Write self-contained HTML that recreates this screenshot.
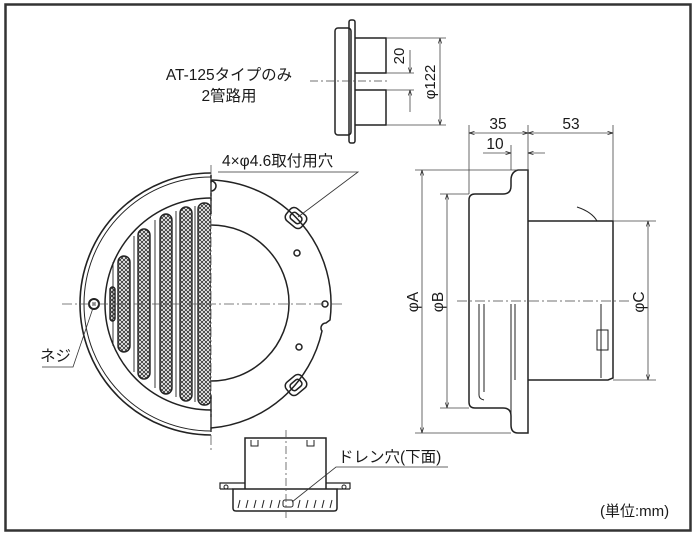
<!DOCTYPE html>
<html><head><meta charset="utf-8"><style>
html,body{margin:0;padding:0;background:#fff}
svg{display:block}
text{font-family:"Liberation Sans","Noto Sans CJK JP",sans-serif;fill:#1a1a1a}
</style></head><body>
<svg width="700" height="538" viewBox="0 0 700 538" xmlns="http://www.w3.org/2000/svg">
<defs>
<pattern id="mesh" width="4" height="4" patternUnits="userSpaceOnUse">
<rect width="4" height="4" fill="#fff"/>
<path d="M0 0L4 4M4 0L0 4" stroke="#333" stroke-width="0.9"/>
</pattern>
<marker id="ar" viewBox="0 0 10 10" refX="10" refY="5" markerWidth="7" markerHeight="7" orient="auto-start-reverse"><path d="M0 2L10 5L0 8" fill="none" stroke="#222" stroke-width="1.2"/></marker>
<clipPath id="lh"><rect x="0" y="0" width="211" height="538"/></clipPath>
</defs>
<rect x="5.5" y="4.5" width="685" height="526" fill="none" stroke="#333" stroke-width="2.5"/>

<!-- top small view -->
<text x="229" y="80" font-size="15.5" text-anchor="middle">AT-125タイプのみ</text>
<text x="229" y="101" font-size="15.5" text-anchor="middle">2管路用</text>
<g fill="none" stroke="#222" stroke-width="1.5">
<rect x="335" y="28" width="16" height="107" rx="3"/>
<rect x="349" y="20" width="6" height="123" rx="2"/>
<path d="M355 38H386V73H355M355 90H386V125H355"/>
</g>
<g stroke="#444" stroke-width="0.8" fill="none">
<path d="M310 81H390" stroke-dasharray="8 3 2 3"/>
<path d="M386 38H446M386 125H446M386 73H414M386 90H414"/>
<path d="M410 50V73" marker-end="url(#ar)"/><path d="M410 112V90" marker-end="url(#ar)"/>
<path d="M440 38V125" marker-start="url(#ar)" marker-end="url(#ar)"/>
</g>
<text transform="translate(404,56) rotate(-90)" font-size="15" text-anchor="middle">20</text>
<text transform="translate(435,82) rotate(-90)" font-size="15" text-anchor="middle">φ122</text>

<!-- front view left half -->
<g clip-path="url(#lh)" fill="none" stroke="#222">
<circle cx="211" cy="304" r="131" stroke-width="1.6"/>
<circle cx="211" cy="304" r="127" stroke-width="1"/>
<circle cx="211" cy="304" r="106" stroke-width="1.5"/>
<g fill="url(#mesh)" stroke-width="1.4">
<rect x="118" y="256" width="12" height="96" rx="6"/>
<rect x="138" y="229" width="12" height="150" rx="6"/>
<rect x="160" y="214" width="12" height="180" rx="6"/>
<rect x="180" y="207" width="12" height="194" rx="6"/>
<rect x="198" y="203" width="13" height="202" rx="6"/>
<rect x="110" y="287" width="5" height="34" rx="2.5"/>
</g>
<path d="M113 262V346M134 236V372M155 220V388M176 211V397M195 206V402" stroke-width="0.9"/>
</g>
<circle cx="94" cy="304" r="5" fill="none" stroke="#222" stroke-width="2"/>
<path d="M93 302V306M95 302V306" stroke="#222" stroke-width="0.8"/>

<!-- front view right half -->
<g fill="none" stroke="#222" stroke-width="1.5">
<path d="M211 180A124 124 0 0 1 330 320 L326 323 A5 5 0 0 0 322 331 A124 124 0 0 1 211 428" />
<path d="M211 225A78 78 0 0 1 211 381"/>
<path d="M211 181A5 5 0 0 1 211 191"/>
<g transform="translate(296,218) rotate(40)"><rect x="-10" y="-8" width="20" height="16" rx="5"/><rect x="-6" y="-4" width="12" height="8" rx="3"/></g>
<g transform="translate(296,385) rotate(-40)"><rect x="-10" y="-8" width="20" height="16" rx="5"/><rect x="-6" y="-4" width="12" height="8" rx="3"/></g>
<circle cx="297" cy="253" r="3"/><circle cx="325" cy="304" r="3"/><circle cx="299" cy="347" r="3"/>
</g>
<path d="M211 175V214" stroke="#222" stroke-width="1.5"/>
<path d="M211 395V432" stroke="#222" stroke-width="1.5"/>
<g stroke="#555" stroke-width="0.8" fill="none">
<path d="M62 304H345" stroke-dasharray="10 3 2 3"/>
<path d="M211 165V450" stroke-dasharray="10 3 2 3"/>
</g>
<text x="222" y="166" font-size="15.5">4×φ4.6取付用穴</text>
<path d="M218 172H358L298 217" fill="none" stroke="#333" stroke-width="0.8"/>
<text x="40" y="361" font-size="15.5">ネジ</text>
<path d="M42 367H73L93 308" fill="none" stroke="#333" stroke-width="0.8"/>

<!-- side view -->
<g fill="none" stroke="#222" stroke-width="1.5">
<path d="M528 170H518Q511 172 511 180V186Q511 194 503 194H475Q469 194 469 200V402Q469 408 475 408H503Q511 408 511 416V425Q511 433 518 433H528Z"/>
<path d="M528 221H613V378L608 380H528"/>
<path d="M511 304V416M515 304V380" stroke-width="1"/>
<path d="M479 304V395Q479 399 484 400M484 304V392" stroke-width="1"/>
<path d="M577 207Q592 212 597 221" stroke-width="1"/>
<path d="M601 304V378M597 330H608V350H597Z" stroke-width="1"/>
</g>
<g stroke="#444" stroke-width="0.8" fill="none">
<path d="M457 301H630" stroke-dasharray="10 3 2 3"/>
<path d="M469 125V194M528 125V170M613 125V221M511 145V170"/>
<path d="M469 133H528" marker-start="url(#ar)" marker-end="url(#ar)"/>
<path d="M528 133H613" marker-start="url(#ar)" marker-end="url(#ar)"/>
<path d="M483 153H511" marker-end="url(#ar)"/><path d="M545 153H528" marker-end="url(#ar)"/>
<path d="M415 170H528M440 194H469M415 433H511M440 408H469M613 221H656M613 380H656"/>
<path d="M422 170V433" marker-start="url(#ar)" marker-end="url(#ar)"/>
<path d="M447 194V408" marker-start="url(#ar)" marker-end="url(#ar)"/>
<path d="M648 221V380" marker-start="url(#ar)" marker-end="url(#ar)"/>
</g>
<text x="498" y="129" font-size="15.5" text-anchor="middle">35</text>
<text x="571" y="129" font-size="15.5" text-anchor="middle">53</text>
<text x="495" y="149" font-size="15.5" text-anchor="middle">10</text>
<text transform="translate(418,302) rotate(-90)" font-size="15.5" text-anchor="middle">φA</text>
<text transform="translate(443,302) rotate(-90)" font-size="15.5" text-anchor="middle">φB</text>
<text transform="translate(644,302) rotate(-90)" font-size="15.5" text-anchor="middle">φC</text>

<!-- bottom view -->
<g fill="none" stroke="#222" stroke-width="1.5">
<path d="M245 489V438H326V489"/>
<path d="M251 440V446H258V440M307 440V446H314V440" stroke-width="1"/>
<path d="M233 489H337V508Q337 511 334 511H236Q233 511 233 508Z"/>
<path d="M220 489V483H245M350 489V483H326M220 489H233M337 489H350" stroke-width="1.2"/>
<circle cx="226" cy="487" r="2" stroke-width="1"/><circle cx="344" cy="487" r="2" stroke-width="1"/>
<path d="M238 508L240 500M246 508L248 500M254 508L256 500M262 508L264 500M270 508L272 500M278 508L280 500M298 508L300 500M306 508L308 500M314 508L316 500M322 508L324 500M330 508L332 500" stroke-width="1"/>
<rect x="283" y="500" width="10" height="7" rx="2" stroke-width="1"/>
</g>
<path d="M286 430V520" stroke="#555" stroke-width="0.8" stroke-dasharray="8 3 2 3"/>
<text x="338" y="462" font-size="15.5">ドレン穴(下面)</text>
<path d="M448 467H336L292 502" fill="none" stroke="#333" stroke-width="0.8"/>

<text x="600" y="516" font-size="15">(単位:mm)</text>
</svg>
</body></html>
